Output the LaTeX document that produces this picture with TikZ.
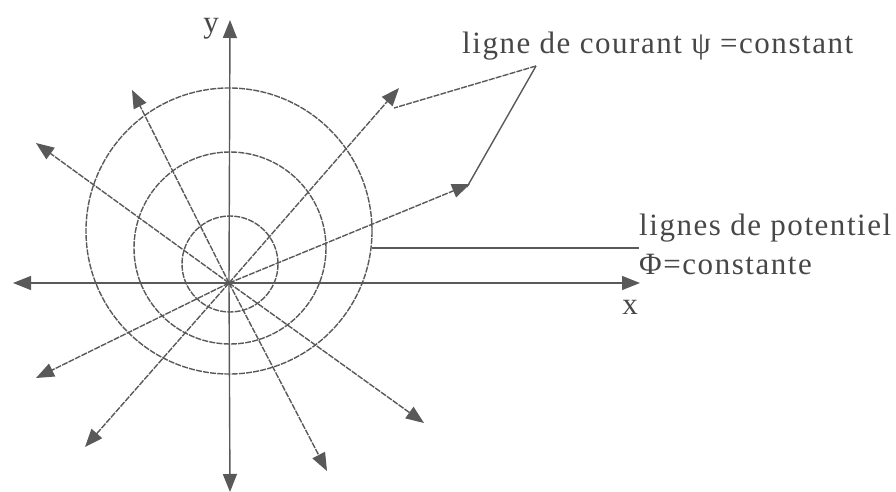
\documentclass[tikz,border=0pt]{standalone}
\usepackage{fontspec}
\setmainfont{Liberation Serif}[LetterSpace=5]
\usetikzlibrary{arrows.meta}
\begin{document}
\begin{tikzpicture}[x=1pt,y=-1pt,
  ink/.style={draw=black!65,line width=1.4pt},
  tip/.style={-{Triangle[length=18pt,width=14pt]}},
  ray/.style={ink,dash pattern=on 6pt off 1.2pt,tip},
  axis/.style={ink,tip},
  circ/.style={ink,dash pattern=on 6pt off 1.2pt},
  lbl/.style={text=black!72,font=\fontsize{31}{34}\selectfont,inner sep=0pt}]
\useasboundingbox (0,0) rectangle (896,492);
\coordinate (O) at (229,283);
% circles
\draw[circ] (230,264) circle (48);
\draw[circ] (230,248) circle (96);
\draw[circ] (229,231) circle (143);
% axes
\coordinate (xl) at (13,283);
\coordinate (xr) at (640,283);
\coordinate (yt) at (230,20);
\coordinate (yb) at (230,492);
\draw[axis] (O) -- (xl);
\draw[axis] (O) -- (xr);
\draw[axis] (O) -- (yt);
\draw[axis] (O) -- (yb);
% rays
\coordinate (r1) at (132,90);
\coordinate (r2) at (36,143);
\coordinate (r4) at (36,378);
\coordinate (r5) at (85,447);
\coordinate (r7) at (327,471);
\coordinate (r8) at (424,423);
\coordinate (r10) at (470,184);
\coordinate (r11) at (399,88);
\foreach \r in {r1,r2,r4,r5,r7,r8,r10,r11} \draw[ray] (O) -- (\r);
% labels
\node[lbl,anchor=base east] (ylab) at (219,33) {y};
\node[lbl,anchor=base] (xlab) at (630,314) {x};
\node[lbl,anchor=base west] (courant) at (462,54) {ligne de courant ψ =constant};
\node[lbl,anchor=base west] (pot1) at (639,235) {lignes de potentiel};
\node[lbl,anchor=base west] (pot2) at (639,274) {Φ=constante};
\coordinate (cp) at (536,66);
\coordinate (c11) at (394,108);
\coordinate (c10) at (467,187);
\draw[ink,dash pattern=on 6pt off 1.2pt] (cp) -- (c11);
\draw[ink] (cp) -- (c10);
\coordinate (pe) at (372,248);
\coordinate (pw) at (639,248);
\draw[ink] (pe) -- (pw);
\end{tikzpicture}
\end{document}
